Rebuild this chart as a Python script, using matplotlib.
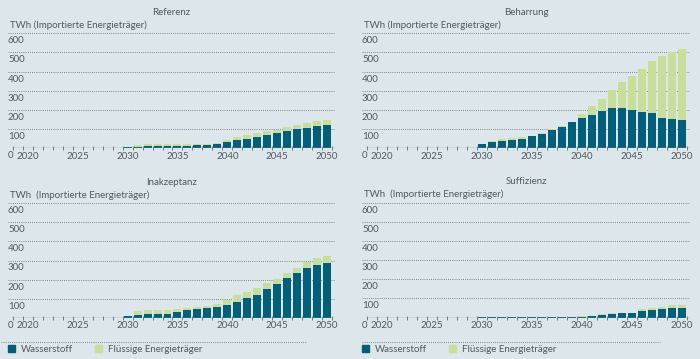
"""
Importierte Energieträger (TWh) in vier Szenarien, 2020-2050.
Writes out.png (700x359).
"""

import matplotlib
matplotlib.use("Agg")
import matplotlib.pyplot as plt
import matplotlib.transforms as mtransforms
from matplotlib.lines import Line2D
from matplotlib.patches import Patch

OUTPUT_PATH = "out.png"

BG      = "#dde6ea"
TEAL    = "#005f79"
GREEN   = "#c7df98"
TEXT    = "#505a5e"
GRID    = "#7d878c"
FS      = 7.0

plt.rcParams["font.family"] = ["Lato", "DejaVu Sans"]
plt.rcParams["font.size"] = FS

# --- Data (years with values; 2020-2029 are empty) ---
years = [2030, 2031, 2032, 2033, 2034, 2035, 2036, 2037, 2038, 2039, 2040,
         2041, 2042, 2043, 2044, 2045, 2046, 2047, 2048, 2049, 2050]
tick_years = [2020, 2025, 2030, 2035, 2040, 2045, 2050]
y_levels = [100, 200, 300, 400, 500, 600]

referenz_h2     = [6, 8, 12, 12, 12, 12, 14, 18, 18, 22, 33, 42, 50, 59, 71, 80, 92, 102, 108, 115, 120]
referenz_liquid = [0, 11, 10, 10, 10, 9, 6, 6, 6, 4, 12, 17, 18, 20, 19, 16, 20, 21, 26, 30, 30]

beharrung_h2     = [22, 33, 40, 43, 47, 62, 77, 96, 112, 135, 156, 175, 194, 210, 210, 199, 189, 182, 157, 155, 148]
beharrung_liquid = [0, 4, 9, 11, 12, 4, 1, 3, 4, 4, 22, 47, 65, 94, 137, 179, 226, 274, 326, 348, 370]

inakzeptanz_h2     = [9, 12, 17, 19, 21, 28, 38, 44, 49, 58, 65, 84, 103, 121, 149, 175, 208, 234, 259, 274, 287]
inakzeptanz_liquid = [1, 23, 21, 21, 21, 19, 11, 12, 10, 14, 26, 33, 32, 35, 31, 30, 26, 26, 31, 37, 35]

suffizienz_h2     = [2, 3, 3, 2, 2, 2, 2, 2, 2, 3, 4, 9, 14, 17, 21, 23, 33, 37, 44, 51, 51]
suffizienz_liquid = [0, 2, 2, 2, 2, 2, 2, 2, 2, 2, 2, 1, 2, 4, 3, 3, 12, 14, 12, 12, 15]

W, H = 700, 359


def _rect(x0, y_top, x1, y_bottom):
    """pixel box (top-left origin) -> figure fraction rect"""
    return [x0 / W, 1 - y_bottom / H, (x1 - x0) / W, (y_bottom - y_top) / H]


def _panel(fig, rect, title, h2, liquid, unit="TWh (Importierte Energieträger)"):
    ax = fig.add_axes(rect)
    ax.set_facecolor("none")
    for s in ax.spines.values():
        s.set_visible(False)

    ax.set_xlim(2018.0, 2050.8)
    ax.set_ylim(0, 600)

    # gridlines + baseline
    for v in y_levels:
        ax.axhline(v, color=GRID, linestyle=(0, (1, 1.2)), linewidth=0.7, zorder=0)
    ax.axhline(0, xmin=0.012, xmax=1, color="#8d979c", linewidth=1.0, zorder=3)

    ax.bar(years, h2, width=0.8, color=TEAL, zorder=2)
    ax.bar(years, liquid, width=0.8, bottom=h2, color=GREEN, zorder=2)

    # x axis: labels on categories, small ticks between categories
    ax.set_xticks(tick_years)
    ax.set_xticklabels([str(y) for y in tick_years], color=TEXT, fontsize=FS)
    ax.tick_params(axis="x", which="major", length=0, pad=2.5)
    ax.set_xticks([y + 0.5 for y in range(2018, 2051)], minor=True)
    ax.tick_params(axis="x", which="minor", length=3, width=0.7,
                   direction="inout", color="#6f797e")
    ax.set_yticks([])

    # y labels sit just below their gridline
    trans = mtransforms.offset_copy(ax.get_yaxis_transform(), fig=fig, x=0, y=-7.5, units="dots")
    for v in [0] + y_levels:
        ax.text(0, v, str(v), transform=trans, ha="left", va="center",
                color=TEXT, fontsize=FS)

    # title + unit line
    ax.text(0.5, 1, title, transform=mtransforms.offset_copy(
        ax.transAxes, fig=fig, y=21, units="dots"),
        ha="center", va="center", color=TEXT, fontsize=FS)
    ax.text(0.006, 1, unit, transform=mtransforms.offset_copy(
        ax.transAxes, fig=fig, y=8.5, units="dots"),
        ha="left", va="center", color=TEXT, fontsize=FS)
    return ax


def _legend(fig, x_px, line_x0, line_x1):
    y_line = 1 - 341.7 / H
    fig.add_artist(Line2D([line_x0 / W, line_x1 / W], [y_line, y_line],
                          transform=fig.transFigure, color=GRID,
                          linestyle=(0, (1, 1.2)), linewidth=0.7))
    handles = [Patch(color=TEAL), Patch(color=GREEN)]
    fig.legend(handles, ["Wasserstoff", "Flüssige Energieträger"],
               loc="center left", bbox_to_anchor=(x_px / W, 1 - 349 / H),
               bbox_transform=fig.transFigure, ncol=2, frameon=False,
               fontsize=FS, labelcolor=TEXT, handlelength=0.75, handleheight=0.75,
               handletextpad=0.6, columnspacing=2.2, borderpad=0, borderaxespad=0)


def main():
    fig = plt.figure(figsize=(W / 100, H / 100), dpi=100)
    fig.patch.set_facecolor(BG)

    bottom_unit = "TWh  (Importierte Energieträger)"
    _panel(fig, _rect(8, 33.3, 335, 148.3), "Referenz", referenz_h2, referenz_liquid)
    _panel(fig, _rect(362, 33.3, 690, 148.3), "Beharrung", beharrung_h2, beharrung_liquid)
    _panel(fig, _rect(8, 203.3, 335, 317.7), "Inakzeptanz", inakzeptanz_h2, inakzeptanz_liquid,
           unit=bottom_unit)
    _panel(fig, _rect(362, 203, 690, 317.5), "Suffizienz", suffizienz_h2, suffizienz_liquid,
           unit=bottom_unit)

    _legend(fig, 8, 1, 306)
    _legend(fig, 362, 362, 660)

    fig.savefig(OUTPUT_PATH, dpi=100, facecolor=BG)


if __name__ == "__main__":
    main()
